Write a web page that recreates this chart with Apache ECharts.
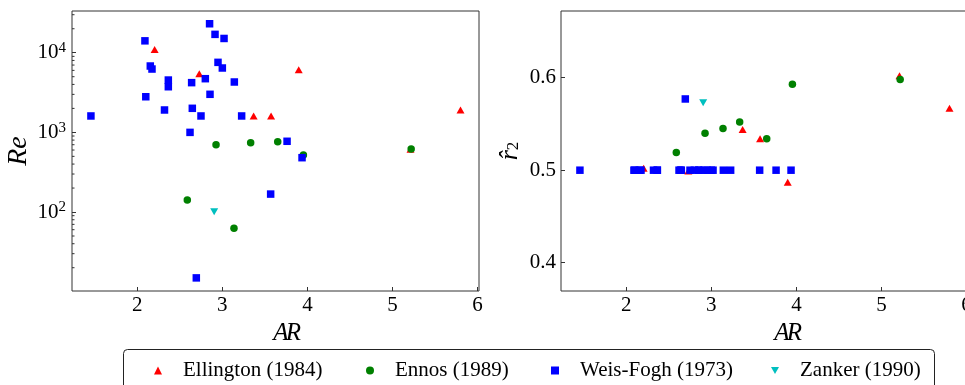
<!DOCTYPE html>
<html><head><meta charset="utf-8">
<script src="https://cdn.jsdelivr.net/npm/echarts@6/dist/echarts.min.js"></script>
<style>html,body{margin:0;padding:0;background:#fff}#c{width:965px;height:385px}</style>
</head><body><div id="c"></div>
<script>
// ---- data ----
const ellAR = [2.204, 2.729, 3.368, 3.573, 3.898, 5.212, 5.80];
const ellRe = [11000, 5460, 1607, 1607, 6120, 614, 1910];
const ellR2 = [0.502, 0.499, 0.544, 0.534, 0.487, 0.602, 0.567];

const ennAR = [2.588, 2.926, 3.137, 3.333, 3.651, 3.953, 5.22];
const ennRe = [142, 701, 62.4, 743, 764, 520, 619];
const ennR2 = [0.519, 0.540, 0.545, 0.552, 0.534, 0.593, 0.598];

const wfAR = [1.455, 2.09, 2.10, 2.153, 2.173, 2.32, 2.365, 2.365, 2.62, 2.639, 2.647, 2.694, 2.749,
              2.80, 2.85, 2.855, 2.914, 2.949, 3.00, 3.02, 3.141, 3.227, 3.568, 3.761, 3.937];
const wfRe = [1607, 14100, 2800, 6810, 6240, 1910, 4540, 3740, 1000, 4210, 2005, 14.9, 1607,
              4720, 23100, 3005, 17000, 7570, 6430, 15100, 4290, 1607, 168, 773, 481];
const wfR2 = [0.5, 0.5, 0.5, 0.5, 0.5, 0.5, 0.5, 0.5, 0.5, 0.5, 0.5, 0.577, 0.5,
              0.5, 0.5, 0.5, 0.5, 0.5, 0.5, 0.5, 0.5, 0.5, 0.5, 0.5, 0.5];

const zanAR = [2.904];
const zanRe = [101];
const zanR2 = [0.573];

const seriesNames = ['Ellington (1984)', 'Ennos (1989)', 'Weis-Fogh (1973)', 'Zanker (1990)'];
const xMin = 1.2325, xMax = 6.0175;
const reMin = 10.2, reMax = 33400;
const r2Min = 0.3694, r2Max = 0.6721;
const reMinorTicks = [20,30,40,50,60,70,80,90,200,300,400,500,600,700,800,900,
                      2000,3000,4000,5000,6000,7000,8000,9000,20000,30000];

// ---- chart ----
const FONT = 'Liberation Serif';
const zip = (a, b) => a.map((v, i) => [v, b[i]]);
const TRI_DOWN = 'path://M0,0 L10,0 L5,9 Z';
const marks = [
  {name: seriesNames[0], color: '#ff0000', symbol: 'triangle', size: [8, 7], x: ellAR, re: ellRe, r2: ellR2},
  {name: seriesNames[1], color: '#008000', symbol: 'circle', size: 7.5, x: ennAR, re: ennRe, r2: ennR2},
  {name: seriesNames[2], color: '#0000ff', symbol: 'rect', size: 7.5, x: wfAR, re: wfRe, r2: wfR2},
  {name: seriesNames[3], color: '#00bfbf', symbol: TRI_DOWN, size: [8, 7], x: zanAR, re: zanRe, r2: zanR2}
];

const series = [];
marks.forEach(m => {
  series.push({type: 'scatter', name: m.name, xAxisIndex: 0, yAxisIndex: 0, data: zip(m.x, m.re),
    symbol: m.symbol, symbolSize: m.size, itemStyle: {color: m.color, opacity: 1}, silent: true});
});
marks.forEach(m => {
  series.push({type: 'scatter', name: m.name, xAxisIndex: 1, yAxisIndex: 1, data: zip(m.x, m.r2),
    symbol: m.symbol, symbolSize: m.size, itemStyle: {color: m.color, opacity: 1}, silent: true});
});
// minor log ticks on the Re axis
series.push({
  type: 'custom', xAxisIndex: 0, yAxisIndex: 0, silent: true, z: 5,
  data: reMinorTicks.map(v => [xMin, v]),
  renderItem: (params, api) => {
    const p = api.coord([api.value(0), api.value(1)]);
    return {type: 'line', shape: {x1: p[0], y1: p[1], x2: p[0] + 2.5, y2: p[1]},
            style: {stroke: '#333', lineWidth: 1}};
  }
});

const axisCommon = {
  axisLine: {show: false},
  splitLine: {show: false},
  axisTick: {show: true, inside: true, length: 4, lineStyle: {color: '#333', width: 1}},
  axisLabel: {fontFamily: FONT, fontSize: 21, color: '#000', showMinLabel: false, showMaxLabel: false}
};

const legendPos = [149, 361, 546, 766];
const legends = seriesNames.map((n, i) => ({
  data: [n], left: legendPos[i], top: 355, itemWidth: 8, itemHeight: 8, selectedMode: false,
  textStyle: {fontFamily: FONT, fontSize: 21, color: '#000', padding: [0, 0, 0, 16]}
}));

const option = {
  animation: false,
  backgroundColor: '#fff',
  grid: [
    {left: 72, top: 11, right: 486, bottom: 94, show: true, borderColor: '#333', borderWidth: 1,
     backgroundColor: 'transparent', outerBoundsMode: 'none', containLabel: false},
    {left: 561, top: 11, right: -3, bottom: 94, show: true, borderColor: '#333', borderWidth: 1,
     backgroundColor: 'transparent', outerBoundsMode: 'none', containLabel: false}
  ],
  xAxis: [0, 1].map(i => Object.assign({}, axisCommon, {
    type: 'value', gridIndex: i, min: xMin, max: xMax, splitNumber: 5,
    axisLabel: Object.assign({}, axisCommon.axisLabel, {margin: 4}),
    name: '{a|A}{r|R}', nameLocation: 'middle', nameGap: 27,
    nameTextStyle: {padding: [0, 0, 0, i === 0 ? 26 : 50], rich: {
      a: {fontFamily: FONT, fontStyle: 'italic', fontSize: 25, width: 10, color: '#000'},
      r: {fontFamily: FONT, fontStyle: 'italic', fontSize: 25, color: '#000'}
    }}
  })),
  yAxis: [
    Object.assign({}, axisCommon, {
      type: 'log', gridIndex: 0, min: reMin, max: reMax, logBase: 10,
      axisLabel: Object.assign({}, axisCommon.axisLabel, {
        margin: 6,
        formatter: v => '{b|10}{s|' + Math.round(Math.log10(v)) + '}',
        rich: {b: {fontFamily: FONT, fontSize: 21, color: '#000'},
               s: {fontFamily: FONT, fontSize: 15, color: '#000', padding: [0, 0, 9, 0]}}
      }),
      name: 'Re', nameLocation: 'middle', nameGap: 39, nameRotate: 90,
      nameTextStyle: {fontFamily: FONT, fontStyle: 'italic', fontSize: 28, color: '#000'}
    }),
    Object.assign({}, axisCommon, {
      type: 'value', gridIndex: 1, min: r2Min, max: r2Max, splitNumber: 3,
      axisLabel: Object.assign({}, axisCommon.axisLabel, {margin: 5}),
      name: '{r|r\u0302}{s|2}', nameLocation: 'middle', nameGap: 38, nameRotate: 90,
      nameTextStyle: {rich: {
        r: {fontFamily: FONT, fontStyle: 'italic', fontSize: 26, color: '#000'},
        s: {fontFamily: FONT, fontSize: 17, color: '#000', padding: [8, 0, 0, 0]}
      }}
    })
  ],
  legend: legends,
  graphic: [{type: 'rect', left: 121, top: 347, shape: {width: 811, height: 50, r: 4},
             style: {fill: 'none', stroke: '#222', lineWidth: 1}, silent: true}],
  series: series
};

const chart = echarts.init(document.getElementById('c'), null, {renderer: 'canvas'});
chart.setOption(option);
</script>
</body></html>
